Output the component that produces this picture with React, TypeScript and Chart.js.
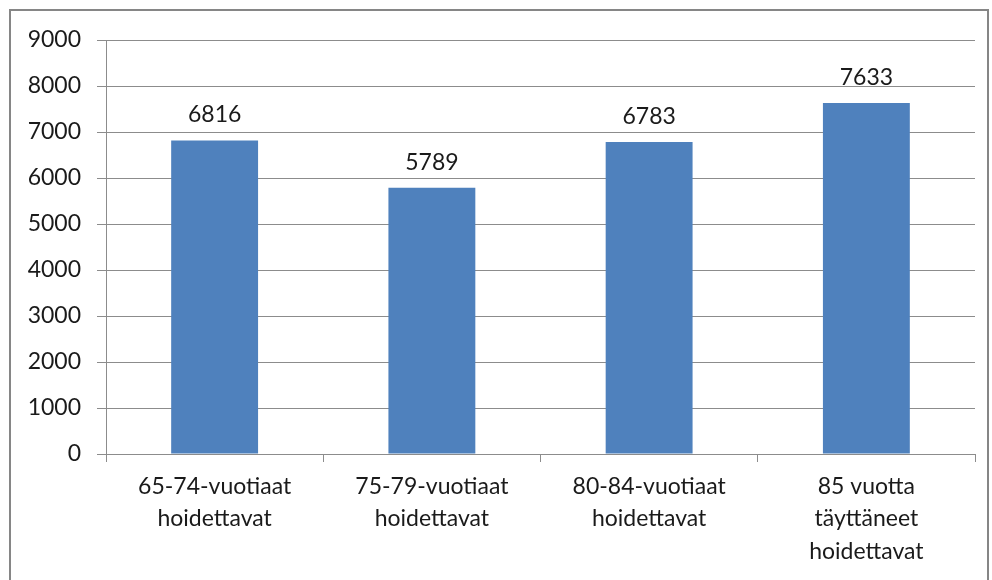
import React, { useEffect, useRef } from "react";
import { Chart, registerables } from "chart.js";

Chart.register(...registerables);

const categories: string[][] = [
  ["65-74-vuotiaat", "hoidettavat"],
  ["75-79-vuotiaat", "hoidettavat"],
  ["80-84-vuotiaat", "hoidettavat"],
  ["85 vuotta", "täyttäneet", "hoidettavat"],
];
const values: number[] = [6816, 5789, 6783, 7633];
const yMin = 0;
const yMax = 9000;
const yStep = 1000;

const FONT = "Lato, 'Open Sans', sans-serif";

const dataLabels = {
  id: "dataLabels",
  afterDatasetsDraw(chart: any) {
    const ctx = chart.ctx;
    const meta = chart.getDatasetMeta(0);
    ctx.save();
    ctx.font = `23px ${FONT}`;
    ctx.fillStyle = "#1a1a1a";
    ctx.textAlign = "center";
    ctx.textBaseline = "bottom";
    meta.data.forEach((bar: any, i: number) => {
      ctx.fillText(String(values[i]), bar.x, bar.y - 14);
    });
    ctx.restore();
  },
};

export default function App() {
  const ref = useRef<HTMLCanvasElement | null>(null);
  useEffect(() => {
    if (!ref.current) return;
    const chart = new Chart(ref.current, {
      type: "bar",
      data: {
        labels: categories,
        datasets: [
          {
            data: values,
            backgroundColor: "#4F81BD",
            borderWidth: 0,
            categoryPercentage: 1,
            barPercentage: 0.4,
          },
        ],
      },
      options: {
        animation: false,
        responsive: false,
        maintainAspectRatio: false,
        layout: { padding: { left: 0, top: 40, right: 17, bottom: 0 } },
        plugins: { legend: { display: false }, tooltip: { enabled: false } },
        scales: {
          x: {
            grid: {
              offset: true,
              drawOnChartArea: false,
              drawTicks: true,
              tickLength: 8,
              color: "#8c8c8c",
            },
            border: { color: "#8c8c8c", width: 1 },
            ticks: {
              color: "#1a1a1a",
              font: { family: FONT, size: 23, lineHeight: 1.42 },
              padding: 8,
              maxRotation: 0,
              autoSkip: false,
            },
            afterFit: (s: any) => {
              s.height = 126;
            },
          },
          y: {
            min: yMin,
            max: yMax,
            grid: { color: "#8c8c8c", tickLength: 9 },
            border: { color: "#8c8c8c", width: 1 },
            ticks: {
              stepSize: yStep,
              color: "#1a1a1a",
              font: { family: FONT, size: 23 },
              padding: 16,
              callback: (v: any) => String(v),
            },
            afterFit: (s: any) => {
              s.width = 106;
            },
          },
        },
      },
      plugins: [dataLabels],
    });
    return () => chart.destroy();
  }, []);
  return (
    <div style={{ position: "absolute", left: 0, top: 0, width: 992, height: 580, background: "#fff" }}>
      <div
        style={{
          position: "absolute",
          left: 9,
          top: 9,
          width: 980,
          height: 600,
          border: "2px solid #868686",
          boxSizing: "border-box",
        }}
      />
      <canvas ref={ref} width={992} height={580} style={{ position: "absolute", left: 0, top: 0 }} />
    </div>
  );
}
